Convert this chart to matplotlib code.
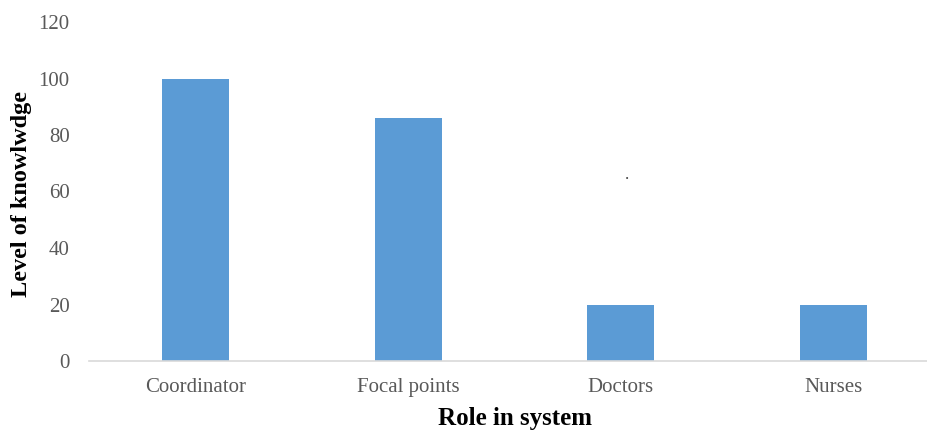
import numpy as np
import matplotlib.pyplot as plt

roles = ['Coordinator', 'Focal points', 'Doctors', 'Nurses']
knowledge = [100, 86, 20, 20]
yticks = [0, 20, 40, 60, 80, 100, 120]

plt.rcParams['font.family'] = ['Liberation Serif', 'DejaVu Serif']

fig = plt.figure(figsize=(9.28, 4.34), dpi=100)
ax = fig.add_axes([89/928, 1-361/434, (940-89)/928, (361-22)/434])

x = np.arange(len(roles))
ax.bar(x, knowledge, width=0.315, color='#5B9BD5', zorder=2)

# stray dot in the original figure
ax.text(2.03, 63, '.', fontsize=12, color='#404040', ha='center', va='bottom')

ax.set_xlim(-0.5, 3.5)
ax.set_ylim(0, 120)
ax.set_xticks(x)
ax.set_xticklabels(roles)
ax.set_yticks(yticks)

for s in ['top', 'right', 'left']:
    ax.spines[s].set_visible(False)
ax.spines['bottom'].set_color('#D9D9D9')
ax.spines['bottom'].set_linewidth(1.2)

ax.tick_params(axis='both', length=0, labelsize=15, labelcolor='#595959')
ax.tick_params(axis='y', pad=14)
ax.tick_params(axis='x', pad=12)

fig.text(22/928, 1-194/434, 'Level of knowlwdge', fontsize=17.5, fontweight='bold',
         rotation=90, ha='center', va='center')
fig.text(515/928, 1-418/434, 'Role in system', fontsize=18, fontweight='bold',
         ha='center', va='center')

plt.savefig('out.png', dpi=100)
